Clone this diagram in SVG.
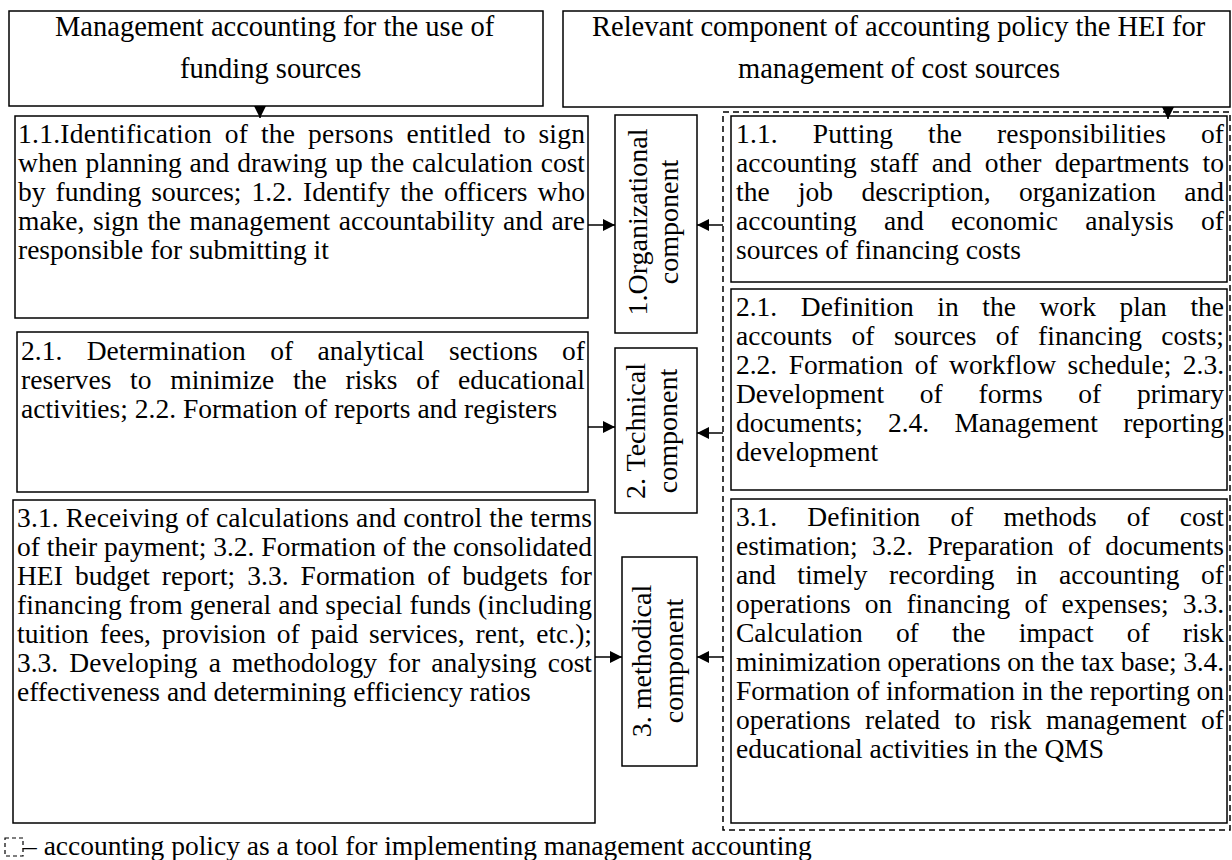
<svg xmlns="http://www.w3.org/2000/svg" width="1232" height="860" viewBox="0 0 1232 860">
<style>
.box{fill:#fff;stroke:#000;stroke-width:1.5}
.dash{fill:none;stroke:#000;stroke-width:1.5;stroke-dasharray:6 4}
.t{font-family:"Liberation Serif","Times New Roman",serif;font-size:27.5px;fill:#000}
.h{font-size:28.5px}
.v{font-size:28px}
.conn{stroke:#000;stroke-width:1.5;fill:none;marker-end:url(#ah)}
</style>
<defs>
<marker id="ah" viewBox="0 0 10 10" refX="10" refY="5" markerWidth="12" markerHeight="12" markerUnits="userSpaceOnUse" orient="auto"><path d="M0,0 L10,5 L0,10 z" fill="#000"/></marker>
</defs>
<rect width="1232" height="860" fill="#fff"/>

<g id="policy-frame"><rect class="dash" x="723" y="112" width="507" height="718"/></g>

<g id="head-left">
<rect class="box" x="9" y="11" width="534" height="95"/>
<text class="t h" x="55" y="36">Management accounting for the use of</text>
<text class="t h" x="180" y="78">funding sources</text>
</g>

<g id="head-right">
<rect class="box" x="563" y="11" width="667" height="96"/>
<text class="t h" x="592" y="36">Relevant component of accounting policy the HEI for</text>
<text class="t h" x="738" y="78">management of cost sources</text>
</g>

<g id="left-1">
<rect class="box" x="15" y="116" width="573" height="202"/>
<text class="t" x="18" y="143" textLength="567" lengthAdjust="spacing" style="word-spacing:5.6px">1.1.Identification of the persons entitled to sign</text>
<text class="t" x="18" y="172" textLength="567" lengthAdjust="spacing" style="word-spacing:1px">when planning and drawing up the calculation cost</text>
<text class="t" x="18" y="201" textLength="567" lengthAdjust="spacing" style="word-spacing:3.2px">by funding sources; 1.2. Identify the officers who</text>
<text class="t" x="18" y="230" textLength="567" lengthAdjust="spacing" style="word-spacing:1.7px">make, sign the management accountability and are</text>
<text class="t" x="18" y="259">responsible for submitting it</text>
</g>

<g id="left-2">
<rect class="box" x="17" y="332" width="571" height="160"/>
<text class="t" x="21" y="360" textLength="564" lengthAdjust="spacing" style="word-spacing:17.6px">2.1. Determination of analytical sections of</text>
<text class="t" x="21" y="389" textLength="564" lengthAdjust="spacing" style="word-spacing:11.8px">reserves to minimize the risks of educational</text>
<text class="t" x="21" y="418">activities; 2.2. Formation of reports and registers</text>
</g>

<g id="left-3">
<rect class="box" x="13" y="500" width="582" height="323"/>
<text class="t" x="17" y="527" textLength="575" lengthAdjust="spacing">3.1. Receiving of calculations and control the terms</text>
<text class="t" x="17" y="556" textLength="575" lengthAdjust="spacing">of their payment; 3.2. Formation of the consolidated</text>
<text class="t" x="17" y="585" textLength="575" lengthAdjust="spacing" style="word-spacing:5.2px">HEI budget report; 3.3. Formation of budgets for</text>
<text class="t" x="17" y="614" textLength="575" lengthAdjust="spacing">financing from general and special funds (including</text>
<text class="t" x="17" y="643" textLength="575" lengthAdjust="spacing" style="word-spacing:4.1px">tuition fees, provision of paid services, rent, etc.);</text>
<text class="t" x="17" y="672" textLength="575" lengthAdjust="spacing" style="word-spacing:4.2px">3.3. Developing a methodology for analysing cost</text>
<text class="t" x="17" y="701">effectiveness and determining efficiency ratios</text>
</g>

<g id="comp-1">
<rect class="box" x="615" y="115" width="82" height="218"/>
<text class="t v" transform="translate(647,222) rotate(-90)" text-anchor="middle">1.Organizational</text>
<text class="t v" transform="translate(678,222) rotate(-90)" text-anchor="middle">component</text>
</g>

<g id="comp-2">
<rect class="box" x="615" y="348" width="82" height="165"/>
<text class="t v" transform="translate(645,431) rotate(-90)" text-anchor="middle">2. Technical</text>
<text class="t v" transform="translate(677,431) rotate(-90)" text-anchor="middle">component</text>
</g>

<g id="comp-3">
<rect class="box" x="622" y="557" width="75" height="209"/>
<text class="t v" transform="translate(651,661) rotate(-90)" text-anchor="middle">3. methodical</text>
<text class="t v" transform="translate(683,661) rotate(-90)" text-anchor="middle">component</text>
</g>

<g id="right-1">
<rect class="box" x="731" y="116" width="496" height="166"/>
<text class="t" x="736" y="143" textLength="488" lengthAdjust="spacing" style="word-spacing:27.8px">1.1. Putting the responsibilities of</text>
<text class="t" x="736" y="172" textLength="488" lengthAdjust="spacing" style="word-spacing:6.4px">accounting staff and other departments to</text>
<text class="t" x="736" y="201" textLength="488" lengthAdjust="spacing" style="word-spacing:21.4px">the job description, organization and</text>
<text class="t" x="736" y="230" textLength="488" lengthAdjust="spacing" style="word-spacing:20.4px">accounting and economic analysis of</text>
<text class="t" x="736" y="259">sources of financing costs</text>
</g>

<g id="right-2">
<rect class="box" x="731" y="289" width="496" height="201"/>
<text class="t" x="736" y="316" textLength="488" lengthAdjust="spacing" style="word-spacing:16.7px">2.1. Definition in the work plan the</text>
<text class="t" x="736" y="345" textLength="488" lengthAdjust="spacing" style="word-spacing:12.5px">accounts of sources of financing costs;</text>
<text class="t" x="736" y="374" textLength="488" lengthAdjust="spacing" style="word-spacing:4.6px">2.2. Formation of workflow schedule; 2.3.</text>
<text class="t" x="736" y="403" textLength="488" lengthAdjust="spacing" style="word-spacing:28.8px">Development of forms of primary</text>
<text class="t" x="736" y="432" textLength="488" lengthAdjust="spacing" style="word-spacing:18.3px">documents; 2.4. Management reporting</text>
<text class="t" x="736" y="461">development</text>
</g>

<g id="right-3">
<rect class="box" x="731" y="499" width="496" height="324"/>
<text class="t" x="736" y="526" textLength="488" lengthAdjust="spacing" style="word-spacing:23.2px">3.1. Definition of methods of cost</text>
<text class="t" x="736" y="555" textLength="488" lengthAdjust="spacing" style="word-spacing:7.6px">estimation; 3.2. Preparation of documents</text>
<text class="t" x="736" y="584" textLength="488" lengthAdjust="spacing" style="word-spacing:14.7px">and timely recording in accounting of</text>
<text class="t" x="736" y="613" textLength="488" lengthAdjust="spacing" style="word-spacing:7.3px">operations on financing of expenses; 3.3.</text>
<text class="t" x="736" y="642" textLength="488" lengthAdjust="spacing" style="word-spacing:26.3px">Calculation of the impact of risk</text>
<text class="t" x="736" y="671" textLength="488" lengthAdjust="spacing">minimization operations on the tax base; 3.4.</text>
<text class="t" x="736" y="700" textLength="488" lengthAdjust="spacing">Formation of information in the reporting on</text>
<text class="t" x="736" y="729" textLength="488" lengthAdjust="spacing" style="word-spacing:7.6px">operations related to risk management of</text>
<text class="t" x="736" y="758">educational activities in the QMS</text>
</g>

<g id="connectors">
<line class="conn" x1="260" y1="106" x2="260" y2="118"/>
<line class="conn" x1="1168" y1="107" x2="1168" y2="119"/>
<line class="conn" x1="588" y1="225" x2="615" y2="225"/>
<line class="conn" x1="723" y1="225" x2="697" y2="225"/>
<line class="conn" x1="588" y1="427" x2="615" y2="427"/>
<line class="conn" x1="723" y1="433" x2="697" y2="433"/>
<line class="conn" x1="595" y1="657" x2="622" y2="657"/>
<line class="conn" x1="723" y1="657" x2="697" y2="657"/>
</g>

<g id="legend">
<rect x="5" y="838" width="18" height="18" fill="none" stroke="#000" stroke-width="1.2" stroke-dasharray="4 3"/>
<text class="t" x="23" y="855">– accounting policy as a tool for implementing management accounting</text>
</g>
</svg>
